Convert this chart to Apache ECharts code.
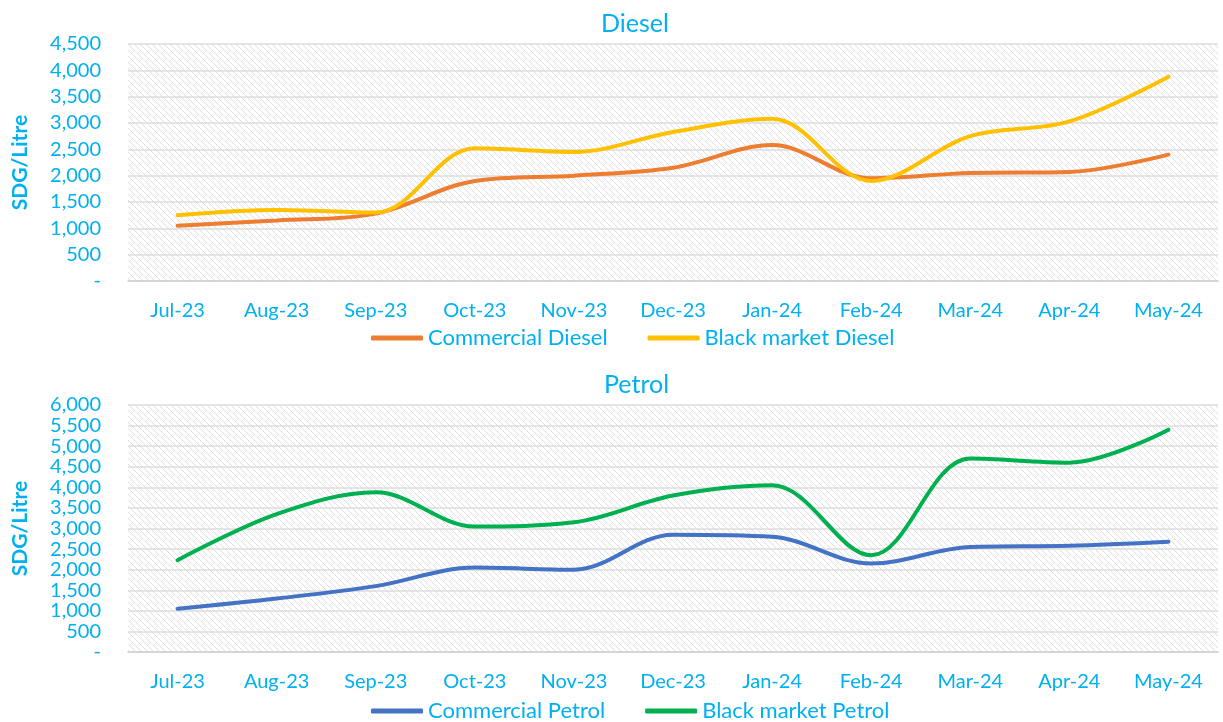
<!DOCTYPE html>
<html>
<head>
<meta charset="utf-8">
<script src="https://cdn.jsdelivr.net/npm/echarts@6/dist/echarts.min.js"></script>
<style>
  html, body { margin: 0; padding: 0; background: #fff; }
  #chart { width: 1223px; height: 722px; }
</style>
</head>
<body>
<div id="chart"></div>
<script>
// 数据
var months = ['Jul-23', 'Aug-23', 'Sep-23', 'Oct-23', 'Nov-23', 'Dec-23', 'Jan-24', 'Feb-24', 'Mar-24', 'Apr-24', 'May-24'];
var commercialDiesel = [1050, 1150, 1280, 1900, 2000, 2150, 2580, 1950, 2050, 2070, 2400];
var blackDiesel = [1250, 1350, 1300, 2520, 2450, 2830, 3080, 1900, 2750, 3030, 3880];
var commercialPetrol = [1050, 1300, 1600, 2050, 2000, 2850, 2800, 2150, 2550, 2580, 2680];
var blackPetrol = [2230, 3350, 3880, 3050, 3150, 3800, 4050, 2350, 4700, 4600, 5400];

var textColor = '#00b0f0';
var font = 'Lato, "Open Sans", sans-serif';

// 斜线底纹
var tile = document.createElement('canvas');
tile.width = 6;
tile.height = 6;
var ctx = tile.getContext('2d');
ctx.fillStyle = '#ffffff';
ctx.fillRect(0, 0, 6, 6);
ctx.strokeStyle = '#dedede';
ctx.lineWidth = 1;
ctx.beginPath();
ctx.moveTo(-1, -1); ctx.lineTo(7, 7);
ctx.moveTo(-4, 2); ctx.lineTo(4, 10);
ctx.moveTo(2, -4); ctx.lineTo(10, 4);
ctx.stroke();
var hatch = { image: tile, repeat: 'repeat' };

function fmt(v) {
    if (v === 0) return '-';
    return v.toLocaleString('en-US');
}

function yAxis(idx, max) {
    return {
        type: 'value',
        gridIndex: idx,
        min: 0,
        max: max,
        interval: 500,
        name: 'SDG/Litre',
        nameLocation: 'middle',
        nameGap: 97,
        nameTextStyle: { color: textColor, fontFamily: font, fontSize: 21, fontWeight: 'bold' },
        axisLine: { show: false },
        axisTick: { show: false },
        axisLabel: {
            color: textColor, fontFamily: font, fontSize: 20, margin: 27, formatter: fmt,
            showMinLabel: true, showMaxLabel: true, hideOverlap: false
        },
        splitLine: { lineStyle: { color: '#dcdcdc', width: 1.5 } }
    };
}

function xAxis(idx) {
    return {
        type: 'category',
        gridIndex: idx,
        data: months,
        boundaryGap: true,
        axisLine: { lineStyle: { color: '#d0d0d0', width: 1.5 } },
        axisTick: { show: false },
        axisLabel: { color: textColor, fontFamily: font, fontSize: 20, margin: 20, interval: 0 }
    };
}

function line(name, data, color, idx) {
    return {
        name: name,
        type: 'line',
        xAxisIndex: idx,
        yAxisIndex: idx,
        data: data,
        smooth: 0.35,
        showSymbol: false,
        symbol: 'none',
        lineStyle: { color: color, width: 4, cap: 'round' },
        itemStyle: { color: color }
    };
}

var legendText = { color: textColor, fontFamily: font, fontSize: 22 };

var option = {
    backgroundColor: '#ffffff',
    animation: false,
    title: [
        { text: 'Diesel', left: 596, top: 6, textStyle: { color: textColor, fontFamily: font, fontSize: 25, fontWeight: 'normal' } },
        { text: 'Petrol', left: 599, top: 367, textStyle: { color: textColor, fontFamily: font, fontSize: 25, fontWeight: 'normal' } }
    ],
    grid: [
        { left: 128, right: 5, top: 44, height: 237, show: true, backgroundColor: hatch, borderWidth: 0, outerBoundsMode: 'none', containLabel: false },
        { left: 128, right: 5, top: 405, height: 247, show: true, backgroundColor: hatch, borderWidth: 0, outerBoundsMode: 'none', containLabel: false }
    ],
    legend: [
        {
            data: ['Commercial Diesel', 'Black market Diesel'],
            left: 366, top: 322,
            icon: 'roundRect', itemWidth: 52, itemHeight: 5, itemGap: 40,
            textStyle: legendText
        },
        {
            data: ['Commercial Petrol', 'Black market Petrol'],
            left: 366, top: 695,
            icon: 'roundRect', itemWidth: 52, itemHeight: 5, itemGap: 40,
            textStyle: legendText
        }
    ],
    xAxis: [xAxis(0), xAxis(1)],
    yAxis: [yAxis(0, 4500), yAxis(1, 6000)],
    series: [
        line('Commercial Diesel', commercialDiesel, '#ed7d31', 0),
        line('Black market Diesel', blackDiesel, '#ffc000', 0),
        line('Commercial Petrol', commercialPetrol, '#4472c4', 1),
        line('Black market Petrol', blackPetrol, '#00b050', 1)
    ]
};

var chart = echarts.init(document.getElementById('chart'));
chart.setOption(option);
</script>
</body>
</html>
